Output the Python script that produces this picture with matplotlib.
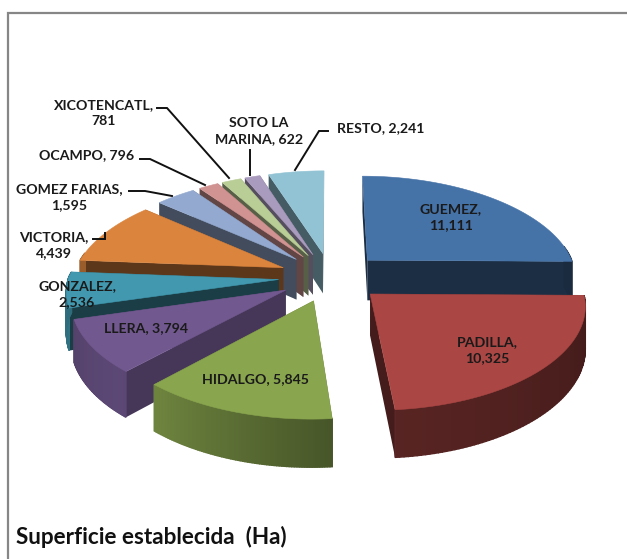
import numpy as np
import matplotlib
matplotlib.use('Agg')
import matplotlib.pyplot as plt
from matplotlib.colors import to_rgb
from matplotlib.patches import Polygon

# values (Ha)
names = ['GUEMEZ', 'PADILLA', 'HIDALGO', 'LLERA', 'GONZALEZ', 'VICTORIA',
         'GOMEZ FARIAS', 'OCAMPO', 'XICOTENCATL', 'SOTO LA MARINA', 'RESTO']
values = [11111, 10325, 5845, 3794, 2536, 4439, 1595, 796, 781, 622, 2241]
colors = ['#4572A7', '#AA4643', '#89A54E', '#71588F', '#4198AF', '#DB843D',
          '#93A9CF', '#D19392', '#B9CD96', '#A99BBD', '#92C3D4']
title = 'Superficie establecida  (Ha)'

# how dark the flat cut of each slice is
cut_shade = [0.40, 0.40, 0.45, 0.62, 0.40, 0.42, 0.45, 0.47, 0.47, 0.50, 0.47]

# pie geometry in pixels
cx, cy = 331, 277
R = 210
explode = 0.25
tilt = 0.466
persp_back = 0.16
persp_front = 0.10
persp_y = 0.12
depth = 41

# label centres, line breaks are where the chart wraps them
labels = {
    'GUEMEZ': (451, 217, 'GUEMEZ,\n{v}'),
    'PADILLA': (487, 350, 'PADILLA,\n{v}'),
    'HIDALGO': (256, 379, 'HIDALGO, {v}'),
    'LLERA': (146, 328, 'LLERA, {v}'),
    'GONZALEZ': (77, 294, 'GONZALEZ,\n{v}'),
    'VICTORIA': (54, 245, 'VICTORIA,\n{v}'),
    'GOMEZ FARIAS': (69, 197, 'GOMEZ FARIAS,\n{v}'),
    'OCAMPO': (87, 155, 'OCAMPO, {v}'),
    'XICOTENCATL': (104, 113, 'XICOTENCATL,\n{v}'),
    'SOTO LA MARINA': (259, 131, 'SOTO LA\nMARINA, {v}'),
    'RESTO': (381, 128, 'RESTO, {v}'),
}
leaders = [
    ([157, 167, 229], [108, 108, 178]),
    ([250, 250], [150, 175]),
    ([295, 319, 328], [170, 131, 131]),
    ([140, 150, 205], [159, 159, 185]),
    ([129, 145, 172], [191, 191, 196]),
    ([93, 105, 105], [239, 239, 233]),
]


def project(X, Y, z=0.0):
    # disk coords (right, back) to screen pixels, z = 1 is the bottom of the pie
    fx = 1.0 / (1.0 + np.where(Y > 0, persp_back, persp_front) * Y)
    fy = 1.0 / (1.0 + persp_y * Y)
    return cx + R * X * fx, cy - R * tilt * Y * fy + z * depth * fy


def mix(color, k):
    return tuple(c * k for c in to_rgb(color))


def wall_shade(deg):
    return np.interp(deg, [90, 175, 225, 275], [0.38, 0.52, 0.82, 0.70])


fig = plt.figure(figsize=(6.27, 5.59), dpi=100)
ax = fig.add_axes([0, 0, 1, 1])
ax.set_xlim(0, 627)
ax.set_ylim(559, 0)
ax.axis('off')

# chart frame
ax.plot([8, 8, 627], [559, 12.5, 12.5], color='#868686', lw=1.6, solid_joinstyle='miter')

total = float(sum(values))
edges = np.concatenate([[0], np.cumsum(values)]) / total * 360.0

# back slices first, the two big right ones go on top of the rest
order = [10, 9, 8, 7, 6, 5, 4, 3, 2, 0, 1]
for z_i, i in enumerate(order):
    a0, a1 = edges[i], edges[i + 1]
    mid = np.radians((a0 + a1) / 2)
    ox, oy = explode * np.sin(mid), explode * np.cos(mid)
    t = np.radians(np.linspace(a0, a1, 80))
    X = ox + np.sin(t)
    Y = oy + np.cos(t)
    color = colors[i]
    zo = 2 + z_i

    # flat cuts
    for a in (t[0], t[-1]):
        px = [ox, ox + np.sin(a)]
        py = [oy, oy + np.cos(a)]
        tx, ty = project(np.array(px), np.array(py))
        bx, by = project(np.array(px), np.array(py), 1.0)
        poly = np.column_stack([np.r_[tx, bx[::-1]], np.r_[ty, by[::-1]]])
        ax.add_patch(Polygon(poly, fc=mix(color, cut_shade[i]), ec='none', zorder=zo))

    # outer wall in small strips so the shade can change along it
    tx, ty = project(X, Y)
    bx, by = project(X, Y, 1.0)
    for j in range(len(t) - 1):
        if np.cos(t[j]) > 0.15:
            continue
        deg = np.degrees(t[j])
        fc = mix(color, wall_shade(deg))
        poly = [(tx[j], ty[j]), (tx[j + 1], ty[j + 1]), (bx[j + 1], by[j + 1]), (bx[j], by[j])]
        ax.add_patch(Polygon(poly, fc=fc, ec=fc, lw=1.0, zorder=zo))

    # top face
    ax0, ay0 = project(np.array(ox), np.array(oy))
    top = np.column_stack([np.r_[ax0, tx], np.r_[ay0, ty]])
    ax.add_patch(Polygon(top, fc=color, ec=color, lw=0.4, zorder=zo + 0.5))

# leader lines
for lx, ly in leaders:
    ax.plot(lx, ly, color='#111111', lw=1.4, zorder=30, solid_joinstyle='miter')

# data labels
for name, val in zip(names, values):
    x, y, txt = labels[name]
    ax.text(x, y, txt.format(v=f'{val:,}'), ha='center', va='center', family='Lato',
            fontweight='bold', fontsize=10.2, color='#1a1a1a', linespacing=1.45, zorder=31)

ax.text(16, 537, title, ha='left', va='center', family='Lato', fontweight='bold',
        fontsize=16.2, color='#111111', zorder=31)

fig.savefig('out.png', dpi=100)
